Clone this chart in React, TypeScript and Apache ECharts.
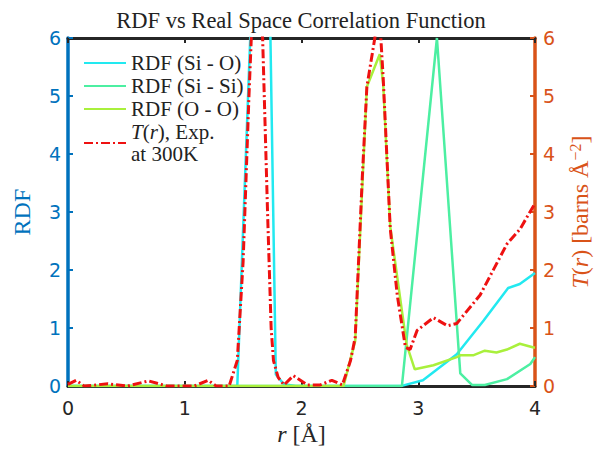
import React, { useEffect, useRef } from "react";
import * as echarts from "echarts";

// ---- data ----
const siO_r = [0, 1.45, 1.57, 1.73, 1.78, 1.85, 1.95, 2.85, 3.04, 3.33, 3.56, 3.77, 3.87, 4.0];
const siO_v = [0, 0, 6.5, 6.5, 0.2, 0.03, 0, 0, 0.1, 0.55, 1.13, 1.69, 1.76, 1.95];

const siSi_r = [0, 2.86, 3.16, 3.36, 3.46, 3.57, 3.76, 3.96, 4.0];
const siSi_v = [0, 0, 6.0, 0.22, 0.02, 0.02, 0.12, 0.38, 0.5];

const oo_r = [0, 2.36, 2.46, 2.56, 2.67, 2.7, 2.76, 2.9, 2.97, 3.13, 3.33, 3.36, 3.47, 3.57, 3.67, 3.76, 3.87, 3.98, 4.0];
const oo_v = [0, 0, 0.78, 5.16, 5.72, 5.2, 2.75, 0.72, 0.29, 0.36, 0.5, 0.53, 0.53, 0.61, 0.58, 0.63, 0.73, 0.67, 0.66];

const t_r = [
  0, 0.07, 0.14, 0.34, 0.51, 0.69, 0.85, 1.08, 1.2, 1.27, 1.38, 1.45, 1.5, 1.55, 1.57, 1.615, 1.667, 1.71, 1.74,
  1.76, 1.8, 1.85, 1.93, 2.05, 2.16, 2.26, 2.35, 2.42, 2.46, 2.52, 2.56, 2.62, 2.64, 2.675, 2.7, 2.76, 2.82, 2.89,
  2.93, 2.99, 3.13, 3.25, 3.33, 3.53, 3.76, 3.87, 4.0,
];
const t_v = [
  0.03, 0.1, 0.0, 0.04, 0.0, 0.09, 0.0, 0.0, 0.1, 0.0, 0.0, 0.44, 2.15, 5.0, 6.0, 7.0, 6.0, 2.94, 1.0,
  0.44, 0.15, 0.02, 0.18, 0.02, 0.02, 0.1, 0.02, 0.44, 0.84, 3.57, 5.16, 5.9, 6.15, 6.15, 5.3, 2.72, 1.57, 0.67,
  0.63, 0.96, 1.18, 1.04, 1.08, 1.57, 2.45, 2.7, 3.15,
];

const pairs = (xs: number[], ys: number[]) => xs.map((x, i) => [x, ys[i]]);

const BLUE = "#0072BD";
const ORANGE = "#D95319";
const DARK = "#262626";
const SERIF = "'Liberation Serif', 'DejaVu Serif', serif";
const SANS = "'DejaVu Sans', sans-serif";

export default function App() {
  const ref = useRef<HTMLDivElement>(null);
  useEffect(() => {
    if (!ref.current) return;
    const chart = echarts.init(ref.current, undefined, { renderer: "svg" });
    const tickLabel = { fontFamily: SANS, fontSize: 19 };
    chart.setOption({
      animation: false,
      backgroundColor: "#ffffff",
      title: {
        text: "RDF vs Real Space Correlation Function",
        left: "center",
        top: 4,
        textStyle: { fontFamily: SERIF, fontSize: 22.5, fontWeight: "normal", color: "#222" },
      },
      legend: {
        orient: "vertical",
        left: 78,
        top: 47,
        itemWidth: 42,
        itemHeight: 14,
        itemGap: 1,
        itemStyle: { opacity: 0 },
        data: ["RDF (Si - O)", "RDF (Si - Si)", "RDF (O - O)", "T"],
        formatter: (name: string) => (name === "T" ? "{i|T}({i|r}), Exp.\nat 300K" : name),
        textStyle: {
          fontFamily: SERIF,
          fontSize: 21,
          lineHeight: 22,
          color: "#222",
          rich: {
            i: { fontFamily: SERIF, fontSize: 21, fontStyle: "italic", lineHeight: 22, color: "#222" },
          },
        },
      },
      grid: { left: 68, right: 67, top: 38, bottom: 62, containLabel: false },
      xAxis: [
        {
          type: "value",
          min: 0,
          max: 4,
          interval: 1,
          position: "bottom",
          name: "{i|r} [Å]",
          nameLocation: "middle",
          nameGap: 34,
          nameTextStyle: {
            fontFamily: SERIF,
            fontSize: 24,
            color: DARK,
            rich: { i: { fontFamily: SERIF, fontSize: 24, fontStyle: "italic", color: DARK } },
          },
          axisLine: { show: true, onZero: false, lineStyle: { color: DARK, width: 3 } },
          axisTick: { show: true, inside: true, length: 5, lineStyle: { color: DARK, width: 2 } },
          axisLabel: { ...tickLabel, color: DARK, margin: 12, formatter: (v: number) => String(v) },
          splitLine: { show: false },
        },
        {
          type: "value",
          min: 0,
          max: 4,
          interval: 1,
          position: "top",
          axisLine: { show: true, onZero: false, lineStyle: { color: DARK, width: 3 } },
          axisTick: { show: true, inside: true, length: 5, lineStyle: { color: DARK, width: 2 } },
          axisLabel: { show: false },
          splitLine: { show: false },
        },
      ],
      yAxis: [
        {
          type: "value",
          min: 0,
          max: 6,
          interval: 1,
          position: "left",
          name: "RDF",
          nameLocation: "middle",
          nameGap: 34,
          nameTextStyle: { fontFamily: SERIF, fontSize: 24, color: BLUE },
          axisLine: { show: true, onZero: false, lineStyle: { color: BLUE, width: 3.5 } },
          axisTick: { show: true, inside: true, length: 5, lineStyle: { color: BLUE, width: 2 } },
          axisLabel: { ...tickLabel, color: BLUE, margin: 7 },
          splitLine: { show: false },
        },
        {
          type: "value",
          min: 0,
          max: 6,
          interval: 1,
          position: "right",
          name: "{i|T}({i|r}) [barns Å{sup|−2}]",
          nameLocation: "middle",
          nameGap: 32,
          nameTextStyle: {
            fontFamily: SERIF,
            fontSize: 24,
            color: ORANGE,
            rich: {
              i: { fontFamily: SERIF, fontSize: 24, fontStyle: "italic", color: ORANGE },
              sup: { fontFamily: SERIF, fontSize: 16, color: ORANGE, verticalAlign: "top", padding: [0, 0, 10, 0] },
            },
          },
          axisLine: { show: true, onZero: false, lineStyle: { color: ORANGE, width: 3.5 } },
          axisTick: { show: true, inside: true, length: 5, lineStyle: { color: ORANGE, width: 2 } },
          axisLabel: { ...tickLabel, color: ORANGE, margin: 8 },
          splitLine: { show: false },
        },
      ],
      series: [
        {
          name: "RDF (Si - O)",
          type: "line",
          data: pairs(siO_r, siO_v),
          symbol: "none",
          clip: true,
          lineStyle: { color: "#22E9F0", width: 2.5 },
          itemStyle: { color: "#22E9F0" },
        },
        {
          name: "RDF (Si - Si)",
          type: "line",
          data: pairs(siSi_r, siSi_v),
          symbol: "none",
          clip: true,
          lineStyle: { color: "#4CEFA2", width: 2.5 },
          itemStyle: { color: "#4CEFA2" },
        },
        {
          name: "RDF (O - O)",
          type: "line",
          data: pairs(oo_r, oo_v),
          symbol: "none",
          clip: true,
          lineStyle: { color: "#A9F03C", width: 2.5 },
          itemStyle: { color: "#A9F03C" },
        },
        {
          name: "T",
          type: "line",
          yAxisIndex: 1,
          data: pairs(t_r, t_v),
          symbol: "none",
          clip: true,
          lineStyle: { color: "#EE1111", width: 3, type: [9, 3, 2, 3] },
          itemStyle: { color: "#EE1111" },
        },
      ],
    });
    return () => chart.dispose();
  }, []);
  return <div ref={ref} style={{ width: 602, height: 451, position: "absolute", left: 0, top: 0 }} />;
}
